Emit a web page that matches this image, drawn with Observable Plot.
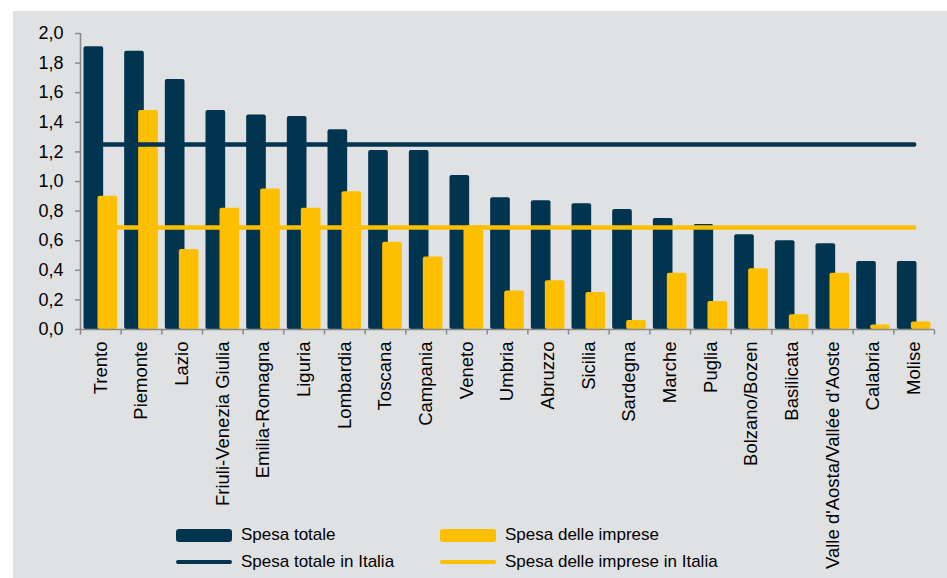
<!DOCTYPE html>
<html>
<head>
<meta charset="utf-8">
<script src="https://cdn.jsdelivr.net/npm/d3@7"></script>
<script src="https://cdn.jsdelivr.net/npm/@observablehq/plot@0.6"></script>
<style>
  html, body { margin: 0; padding: 0; background: #ffffff; }
  body { width: 947px; height: 578px; position: relative; overflow: hidden; font-family: "Liberation Sans", Arial, sans-serif; }
  #panel { position: absolute; left: 13px; top: 11px; width: 934px; height: 567px; background: #e0e1e3; overflow: hidden; }
  .leg { position: absolute; display: flex; align-items: center; height: 22px; font-size: 17px; color: #000; white-space: nowrap; }
  .sw { width: 56px; margin-right: 9px; border-radius: 3px; }
  .sw.bar { height: 13px; }
  .sw.line { height: 4.5px; border-radius: 3px; }
</style>
</head>
<body>
<div id="panel"></div>
<script>
// ---- Data ----
const regions = [
  "Trento", "Piemonte", "Lazio", "Friuli-Venezia Giulia", "Emilia-Romagna",
  "Liguria", "Lombardia", "Toscana", "Campania", "Veneto", "Umbria",
  "Abruzzo", "Sicilia", "Sardegna", "Marche", "Puglia", "Bolzano/Bozen",
  "Basilicata", "Valle d'Aosta/Vallée d'Aoste", "Calabria", "Molise"
];
const spesaTotale = [1.91, 1.88, 1.69, 1.48, 1.45, 1.44, 1.35, 1.21, 1.21, 1.04, 0.89,
                     0.87, 0.85, 0.81, 0.75, 0.71, 0.64, 0.60, 0.58, 0.46, 0.46];
const spesaImprese = [0.90, 1.48, 0.54, 0.82, 0.95, 0.82, 0.93, 0.59, 0.49, 0.70, 0.26,
                      0.33, 0.25, 0.06, 0.38, 0.19, 0.41, 0.10, 0.38, 0.03, 0.05];
const spesaTotaleItalia = 1.25;
const spesaImpreseItalia = 0.69;
const yTicks = [0, 0.2, 0.4, 0.6, 0.8, 1.0, 1.2, 1.4, 1.6, 1.8, 2.0];
const legendLabels = ["Spesa totale", "Spesa delle imprese", "Spesa totale in Italia", "Spesa delle imprese in Italia"];

// ---- Styles ----
const DARK = "#00344f";
const YELLOW = "#fdbf00";
const AXIS = "#8a8a8a";

const W = 934, H = 567;
const mL = 67, mR = 13, mT = 22, mB = 249;
const bw = (W - mL - mR) / regions.length;

const rows = regions.map((r, i) => ({region: r, totale: spesaTotale[i], imprese: spesaImprese[i]}));
const natTot = regions.map(r => ({region: r, value: spesaTotaleItalia}));
const natImp = regions.map(r => ({region: r, value: spesaImpreseItalia}));

const tickSymbol = { draw(ctx) { ctx.moveTo(0, 0); ctx.lineTo(0, 5); } };

const chart = Plot.plot({
  width: W,
  height: H,
  marginLeft: mL,
  marginRight: mR,
  marginTop: mT,
  marginBottom: mB,
  style: { background: "transparent", fontFamily: "'Liberation Sans', Arial, sans-serif", color: "#000", overflow: "visible" },
  x: { type: "band", domain: regions, paddingInner: 0, paddingOuter: 0, align: 0.5, round: false, label: null },
  y: { domain: [0, d3.max(yTicks)], label: null },
  marks: [
    Plot.barY(rows, { x: "region", y: "totale", fill: DARK, insetLeft: 3.5, insetRight: 17.5, rx: 2 }),
    Plot.barY(rows, { x: "region", y: "imprese", fill: YELLOW, insetLeft: 17.5, insetRight: 3.5, rx: 2 }),
    Plot.ruleY([0], { stroke: AXIS, strokeWidth: 1.6 }),
    Plot.ruleX([regions[0]], { x: d => d, y1: 0, y2: d3.max(yTicks), dx: -bw / 2, stroke: AXIS, strokeWidth: 1.6 }),
    Plot.dot(regions, { x: d => d, y: 0, dx: -bw / 2, symbol: tickSymbol, r: 3, stroke: AXIS, strokeWidth: 1.5, fill: "none" }),
    Plot.dot([regions[regions.length - 1]], { x: d => d, y: 0, dx: bw / 2, symbol: tickSymbol, r: 3, stroke: AXIS, strokeWidth: 1.5, fill: "none" }),
    Plot.line(natTot, { x: "region", y: "value", stroke: DARK, strokeWidth: 4.5, strokeLinecap: "round" }),
    Plot.line(natImp, { x: "region", y: "value", stroke: YELLOW, strokeWidth: 4.5, strokeLinecap: "round" }),
    Plot.axisY(yTicks, {
      tickSize: 5, tickPadding: 12, stroke: AXIS, strokeWidth: 1.5, fill: "#000", fontSize: 18,
      tickFormat: d => d.toFixed(1).replace(".", ","), label: null
    }),
    Plot.axisX({ tickSize: 0, tickPadding: 12, tickRotate: -90, fill: "#000", fontSize: 18.5, label: null })
  ]
});
document.getElementById("panel").appendChild(chart);

// ---- Legend (HTML, placed over the bottom of the panel) ----
const legendItems = [
  { label: legendLabels[0], color: DARK, kind: "bar", left: 176, top: 524 },
  { label: legendLabels[1], color: YELLOW, kind: "bar", left: 440, top: 524 },
  { label: legendLabels[2], color: DARK, kind: "line", left: 176, top: 551 },
  { label: legendLabels[3], color: YELLOW, kind: "line", left: 440, top: 551 }
];
for (const it of legendItems) {
  const d = document.createElement("div");
  d.className = "leg";
  d.style.left = it.left + "px";
  d.style.top = it.top + "px";
  const s = document.createElement("span");
  s.className = "sw " + it.kind;
  s.style.background = it.color;
  const t = document.createElement("span");
  t.textContent = it.label;
  d.appendChild(s);
  d.appendChild(t);
  document.body.appendChild(d);
}
</script>
</body>
</html>
